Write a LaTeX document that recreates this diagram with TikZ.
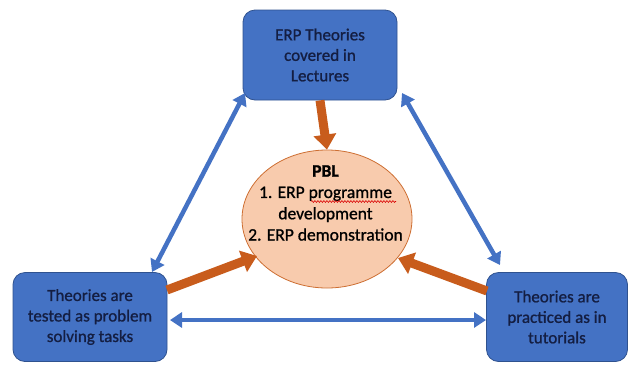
\documentclass[tikz,border=0pt]{standalone}
\usepackage{fontspec}
\setmainfont{Carlito}
\newfontfamily\heavyfont{Carlito}[FakeBold=1]
\usetikzlibrary{arrows.meta,shapes.geometric,decorations.pathmorphing}
\definecolor{boxblue}{RGB}{68,114,196}
\definecolor{boxedge}{RGB}{47,82,143}
\definecolor{boxtext}{RGB}{20,30,66}
\definecolor{arrblue}{RGB}{68,114,196}
\definecolor{arrorange}{RGB}{200,92,28}
\definecolor{peach}{RGB}{248,203,173}
\definecolor{peachedge}{RGB}{205,110,50}
\tikzset{
  bluebox/.style={draw=boxedge, line width=0.8pt, fill=boxblue, rounded corners=12pt,
    text=boxtext, align=center, font=\heavyfont\fontsize{17}{20.5}\selectfont, inner sep=0pt},
  blink/.style={draw=arrblue, line width=4.5pt,
    {Triangle[width=15pt,length=12pt]}-{Triangle[width=15pt,length=12pt]}},
  olink/.style={draw=arrorange, line width=9pt, -{Triangle[width=22pt,length=15pt]}},
}
\begin{document}
\begin{tikzpicture}[x=1pt,y=-1pt]
\useasboundingbox (0,0) rectangle (631,365);
\node[bluebox, minimum width=154pt, minimum height=90pt] (top) at (320,55)
  {ERP Theories\\covered in\\Lectures};
\node[bluebox, minimum width=154pt, minimum height=89pt] (left) at (90,317)
  {Theories are\\tested as problem\\solving tasks};
\node[bluebox, minimum width=141pt, minimum height=89pt] (right) at (557,317)
  {Theories are\\practiced as in\\tutorials};
\node[ellipse, draw=peachedge, line width=0.8pt, fill=peach, minimum width=170pt,
  minimum height=138pt, inner sep=0pt] (pbl) at (327,219) {};
\node[align=center, font=\heavyfont\fontsize{17.5}{21.3}\selectfont, text=black, inner sep=0pt]
  (pbltext) at (325.5,203)
  {{\bfseries PBL}\\1. ERP programme\\development\\2. ERP demonstration};
\draw[red!85!black, line width=0.6pt, decorate,
  decoration={snake, amplitude=0.9pt, segment length=3pt}] (311,201.5) -- (396,201.5);
% connector end points
\coordinate (tl) at (245,93);
\coordinate (lt) at (152,272);
\coordinate (tr) at (402,93);
\coordinate (rt) at (500,265);
\coordinate (lr) at (170,320);
\coordinate (rl) at (486,320);
\coordinate (ls) at (167,290);
\coordinate (le) at (257,256);
\coordinate (rs) at (487,291);
\coordinate (re) at (398,258);
\draw[blink] (tl) -- (lt);
\draw[blink] (tr) -- (rt);
\draw[blink] (lr) -- (rl);
\draw[olink] (top.south) -- (pbl.north);
\draw[olink] (ls) -- (le);
\draw[olink] (rs) -- (re);
\end{tikzpicture}
\end{document}
